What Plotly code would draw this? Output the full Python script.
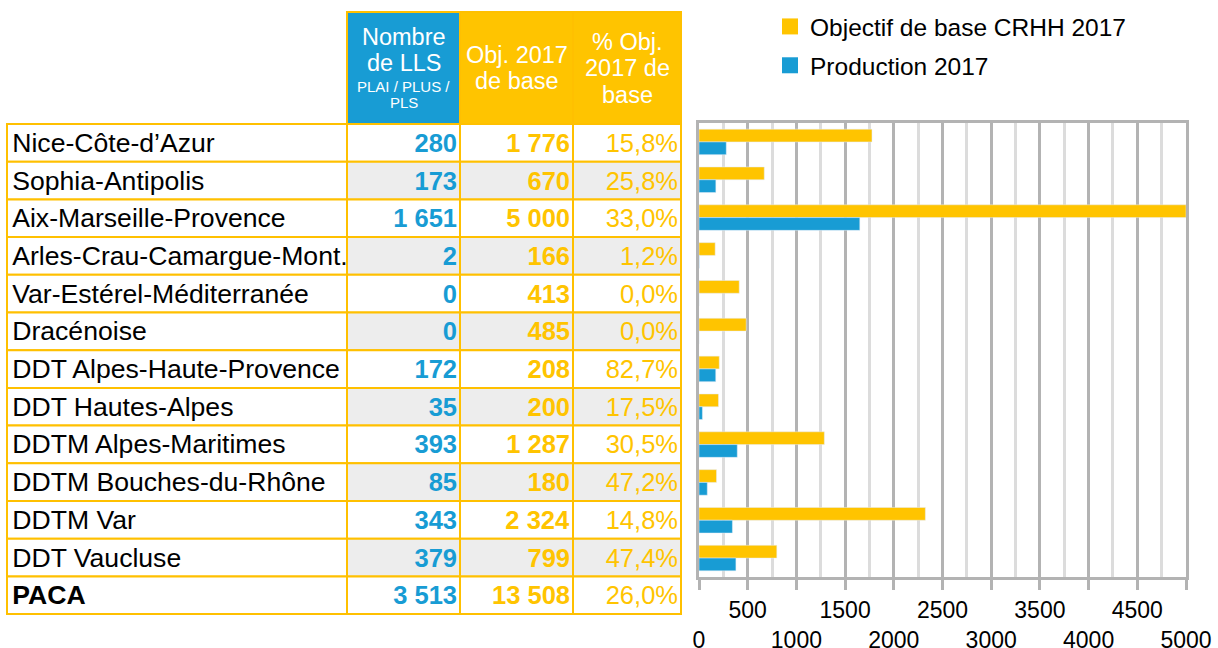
import plotly.graph_objects as go

# ---------------- data ----------------
labels = ["Nice-Côte-d’Azur", "Sophia-Antipolis", "Aix-Marseille-Provence",
          "Arles-Crau-Camargue-Mont.", "Var-Estérel-Méditerranée", "Dracénoise",
          "DDT Alpes-Haute-Provence", "DDT Hautes-Alpes", "DDTM Alpes-Maritimes",
          "DDTM Bouches-du-Rhône", "DDTM Var", "DDT Vaucluse"]
production = [280, 173, 1651, 2, 0, 0, 172, 35, 393, 85, 343, 379]
objectif = [1776, 670, 5000, 166, 413, 485, 208, 200, 1287, 180, 2324, 799]
total_label = "PACA"
total_production = 3513
total_objectif = 13508
x_tick_vals = [0, 500, 1000, 1500, 2000, 2500, 3000, 3500, 4000, 4500, 5000]
legend_names = ["Objectif de base CRHH 2017", "Production 2017"]

# ---------------- style ----------------
FONT = "Liberation Sans, Arial, sans-serif"
YELLOW = "#FFC400"
BORDER = "#FFC000"
BLUE = "#189CD4"
GRAY_FILL = "#EDEDED"
GRID_DARK = "#B3B3B3"
GRID_LIGHT = "#DCDCDC"
W, H = 1218, 648

# table geometry (pixels)
COL_PX = [340, 113, 113, 108]
TABLE_LEFT = 7
TABLE_TOP = 12
HEADER_PX = 112
ROW_PX = 37.7
PAD = 3

edges = [0]
for w in COL_PX:
    edges.append(edges[-1] + w)
n_rows = len(labels) + 1
header_h = HEADER_PX / ROW_PX
pad_r = PAD / ROW_PX
table_bottom = TABLE_TOP + HEADER_PX + n_rows * ROW_PX


def fmt_int(v):
    return f"{v:,}".replace(",", " ")


def fmt_pct(a, b):
    return f"{100 * a / b:.1f}%".replace(".", ",")


HAIR = "\u200a"
col_texts = [
    [HAIR + t for t in labels] + [HAIR + f"<b>{total_label}</b>"],
    [f"<b>{fmt_int(v)}</b>" for v in production + [total_production]],
    [f"<b>{fmt_int(v)}</b>" for v in objectif + [total_objectif]],
    [fmt_pct(p, o) for p, o in zip(production + [total_production], objectif + [total_objectif])],
]
col_colors = ["#000000", BLUE, YELLOW, YELLOW]
col_sizes = [26.6, 25.5, 25.5, 25.5]

fig = go.Figure()

# ---------------- table body (cells as bars) ----------------
row_centers = [i + 0.5 for i in range(n_rows)]
for j in range(4):
    fills = ["white" if (j == 0 or i % 2 == 0) else GRAY_FILL for i in range(n_rows)]
    fig.add_trace(go.Bar(
        y=row_centers, x=[COL_PX[j]] * n_rows, base=[edges[j]] * n_rows,
        width=[1] * n_rows, orientation="h", offsetgroup="tbl",
        marker=dict(color=fills, line=dict(color=BORDER, width=2)),
        text=col_texts[j], textposition="inside",
        insidetextanchor="start" if j == 0 else "end",
        constraintext="none", textangle=0,
        textfont=dict(family=FONT, size=col_sizes[j], color=col_colors[j]),
        xaxis="x2", yaxis="y2", showlegend=False, hoverinfo="skip",
    ))

# header cells
header_fill = [BLUE, YELLOW, YELLOW]
fig.add_trace(go.Bar(
    y=[-header_h / 2] * 3, x=COL_PX[1:], base=edges[1:4], width=[header_h] * 3,
    orientation="h", offsetgroup="tbl",
    marker=dict(color=header_fill, line=dict(color=BORDER, width=2)),
    xaxis="x2", yaxis="y2", showlegend=False, hoverinfo="skip",
))

# header text lines: (column, text, y px, size)
header_lines = [
    (1, "Nombre", 37, 23.5), (1, "de LLS", 63, 23.5),
    (1, "PLAI / PLUS /", 86, 15), (1, "PLS", 102.5, 15),
    (2, "Obj. 2017", 55.5, 23.5), (2, "de base", 80.5, 23.5),
    (3, "% Obj.", 41.5, 23.5), (3, "2017 de", 68, 23.5), (3, "base", 95, 23.5),
]
for col, txt, ypx, size in header_lines:
    fig.add_annotation(
        x=(edges[col] + edges[col + 1]) / 2, xref="x2",
        y=1 - ypx / H, yref="paper", text=txt, showarrow=False,
        xanchor="center", yanchor="middle",
        font=dict(family=FONT, size=size, color="white"),
    )

# ---------------- bar chart ----------------
fig.add_trace(go.Bar(
    y=labels, x=objectif, orientation="h", name=legend_names[0],
    marker=dict(color=YELLOW), showlegend=False, xaxis="x", yaxis="y",
))
fig.add_trace(go.Bar(
    y=labels, x=production, orientation="h", name=legend_names[1],
    marker=dict(color=BLUE), showlegend=False, xaxis="x", yaxis="y",
))
# legend entries
for name, color, grp in [(legend_names[0], YELLOW, "a"), (legend_names[1], BLUE, "b")]:
    fig.add_trace(go.Scatter(
        x=[None], y=[None], mode="markers", name=name, legendgroup=grp,
        marker=dict(symbol="square", size=16, color=color),
        xaxis="x", yaxis="y",
    ))

tick_text = [(str(v) if (v // 500) % 2 == 1 else "<br>" + str(v)) for v in x_tick_vals]

CH_LEFT, CH_RIGHT, CH_TOP, CH_BOTTOM = 699, 1186, 123, 577

fig.update_layout(
    width=W, height=H, margin=dict(l=0, r=0, t=0, b=0, autoexpand=False),
    paper_bgcolor="white", plot_bgcolor="white",
    barmode="group", bargap=0.325, bargroupgap=0,
    font=dict(family=FONT, color="#000000"),
    xaxis=dict(
        domain=[CH_LEFT / W, CH_RIGHT / W], range=[0, 5000], anchor="y",
        tickmode="array", tickvals=x_tick_vals, ticktext=tick_text, tickangle=0,
        automargin=False,
        showgrid=True, gridcolor=GRID_DARK, gridwidth=3, zeroline=False,
        showline=True, linecolor=GRID_DARK, linewidth=3, mirror=True,
        ticks="outside", ticklen=10, tickwidth=3, tickcolor=GRID_DARK,
        tickfont=dict(family=FONT, size=23, color="#000000"),
        minor=dict(dtick=250, tick0=0, showgrid=True, gridcolor=GRID_LIGHT, gridwidth=2.5, ticks=""),
        fixedrange=True,
    ),
    yaxis=dict(
        domain=[1 - CH_BOTTOM / H, 1 - CH_TOP / H], anchor="x",
        autorange="reversed", showgrid=False, showticklabels=False, ticks="",
        showline=True, linecolor=GRID_DARK, linewidth=3, mirror=True,
        zeroline=False, fixedrange=True, automargin=False,
    ),
    xaxis2=dict(
        domain=[(TABLE_LEFT - PAD) / W, (TABLE_LEFT + edges[-1] + PAD) / W],
        range=[-PAD, edges[-1] + PAD], anchor="y2", visible=False, fixedrange=True,
        automargin=False,
    ),
    yaxis2=dict(
        domain=[1 - (table_bottom + PAD) / H, 1 - (TABLE_TOP - PAD) / H],
        range=[n_rows + pad_r, -header_h - pad_r], anchor="x2", visible=False, fixedrange=True,
        automargin=False,
    ),
    legend=dict(
        x=770 / W, xanchor="left", y=1 - 4 / H, yanchor="top",
        font=dict(family=FONT, size=24.5, color="#000000"),
        bgcolor="rgba(0,0,0,0)", traceorder="grouped", tracegroupgap=4,
    ),
)

fig.write_html(
    "out.html",
    config={"displayModeBar": False},
    post_script="document.body.style.margin='0';document.body.style.overflow='hidden';",
)
